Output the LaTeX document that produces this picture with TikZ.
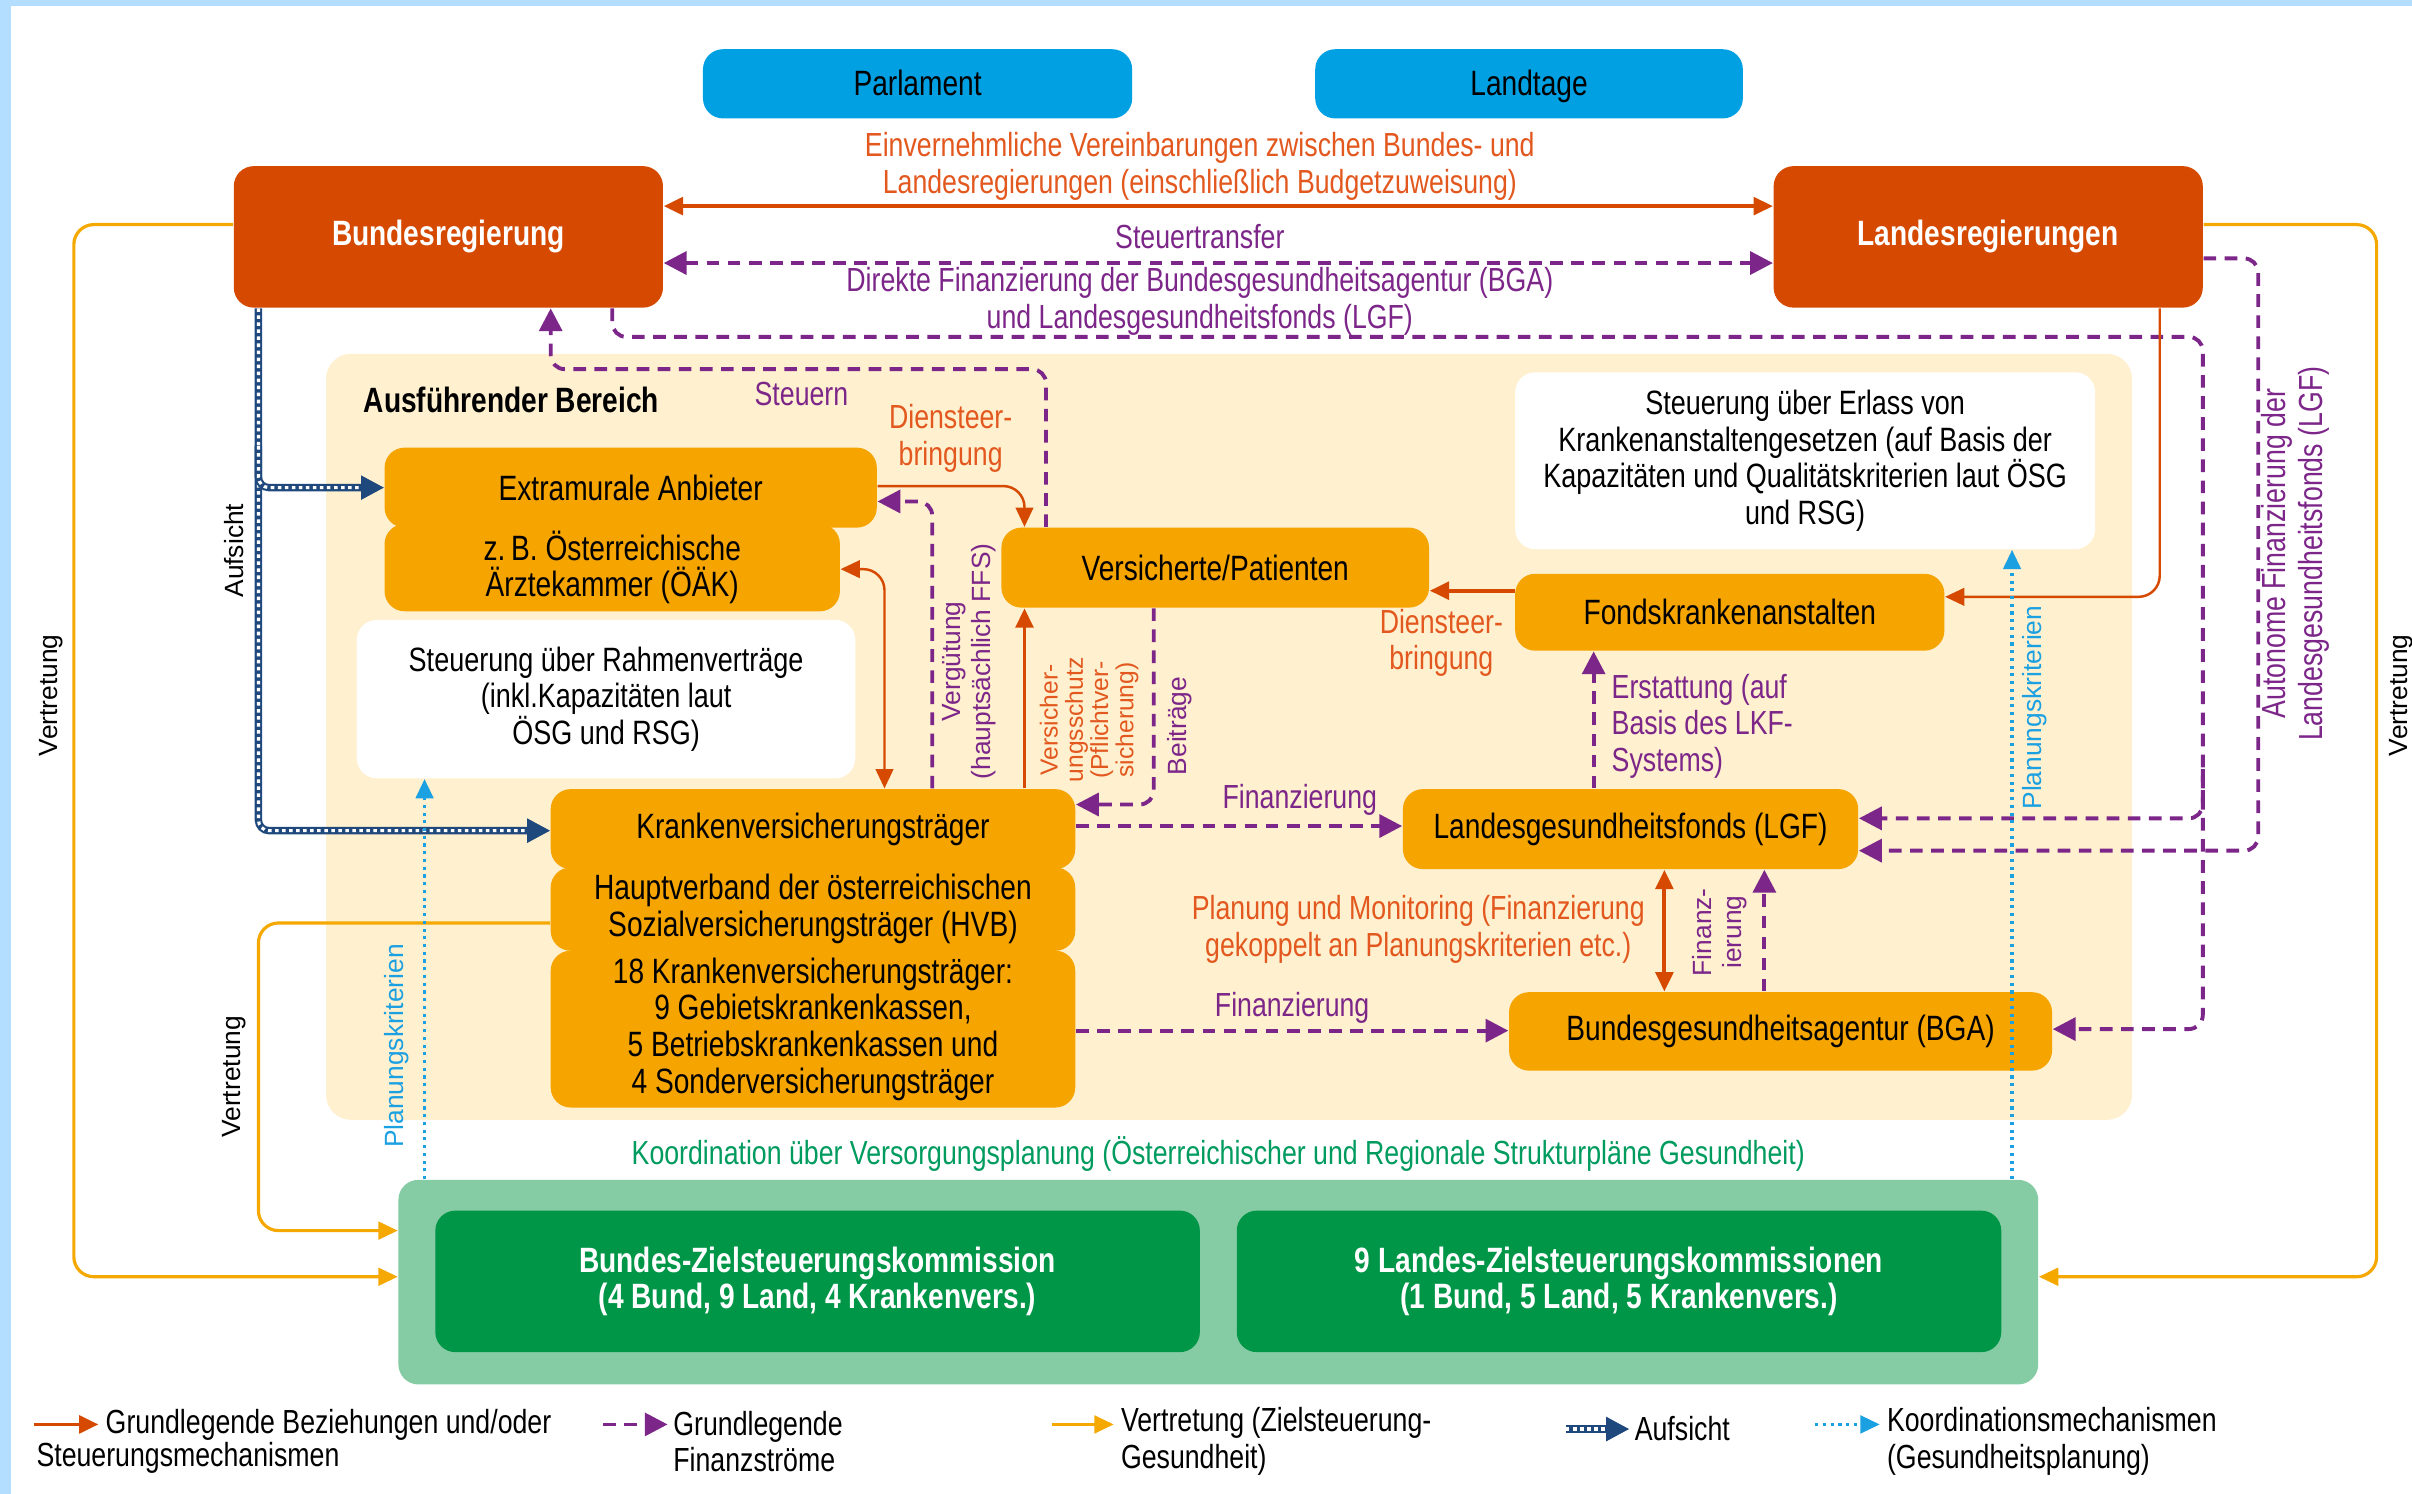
\documentclass[tikz,border=0pt]{standalone}
\usepackage{fontspec}
\setmainfont[FakeStretch=0.8]{Liberation Sans}
\newfontfamily\widefont{Liberation Sans}
\usetikzlibrary{arrows.meta,calc}

\definecolor{bgblue}{RGB}{179,222,255}
\definecolor{parlblue}{RGB}{0,160,227}
\definecolor{govred}{RGB}{213,74,0}
\definecolor{orgorange}{RGB}{245,164,0}
\definecolor{cream}{RGB}{255,240,207}
\definecolor{finpurple}{RGB}{125,38,137}
\definecolor{platgreen}{RGB}{133,204,164}
\definecolor{zielgreen}{RGB}{0,150,72}
\definecolor{koordgreen}{RGB}{0,155,95}
\definecolor{koordblue}{RGB}{27,160,226}
\definecolor{aufsichtblue}{RGB}{31,73,125}
\definecolor{lblorange}{RGB}{226,88,30}
\definecolor{vertyellow}{RGB}{245,168,0}

\newdimen\pxu \pxu=0.015383cm
\newcommand\boxfont{\fontsize{10}{10.4}\selectfont}
\newcommand\notefont{\fontsize{9.6}{10.4}\selectfont}
\newcommand\lblfont{\fontsize{9.5}{10.4}\selectfont}
\newcommand\rotfont{\widefont\fontsize{7.5}{8.4}\selectfont}
% box from corner (x1,y1) to corner (x2,y2)
\newcommand\bx[7]{\node[#6, minimum width={(#4-#2)*\pxu}, minimum height={(#5-#3)*\pxu}] (#1) at ({(#2+#4)/2},{(#3+#5)/2}) {#7};}

\tikzset{
  box/.style={rounded corners=0.2cm, inner sep=2pt, align=center, font=\boxfont},
  parlbox/.style={box, fill=parlblue, text=black, text height=1.6ex, text depth=0.35ex},
  govbox/.style={box, fill=govred, text=white, font=\boxfont\bfseries},
  orgbox/.style={box, fill=orgorange, text=black},
  notebox/.style={box, fill=white, text=black, font=\notefont},
  platbox/.style={box, fill=platgreen},
  zielbox/.style={box, fill=zielgreen, text=white, font=\boxfont\bfseries},
  area/.style={fill=cream, rounded corners=0.25cm},
  lbl/.style={font=\lblfont, align=center, inner sep=1pt},
  rotlbl/.style={font=\rotfont, align=center, inner sep=1pt, rotate=90},
  steuerung/.style={draw=govred, line width=1.1pt, rounded corners=4pt},
  steuerthin/.style={draw=govred, line width=0.7pt, rounded corners=6pt},
  finanz/.style={draw=finpurple, line width=1.1pt, dash pattern=on 3.6pt off 2.4pt, rounded corners=4pt,
    >={Triangle[length=6.5pt,width=6.5pt]}},
  vertretung/.style={draw=vertyellow, line width=0.9pt, rounded corners=0.2cm},
  koord/.style={draw=koordblue, line width=0.9pt, dash pattern=on 0.9pt off 1.3pt},
  aufsicht/.style={draw=white, line width=0.9pt, dash pattern=on 1pt off 1pt, rounded corners=3pt,
    preaction={draw=aufsichtblue, line width=2.1pt, solid},
    >={Triangle[length=6.5pt,width=6.5pt,color=aufsichtblue]}}
}

\begin{document}
\begin{tikzpicture}[x=0.015383cm, y=-0.015383cm, >={Triangle[length=5.5pt,width=5pt]}]
\useasboundingbox (0,0) rectangle (1568,971);
\fill[white] (0,0) rectangle (1568,971);
\fill[bgblue] (0,0) rectangle (1568,4);
\fill[bgblue] (0,0) rectangle (7,971);

% areas
\bx{bereich}{212}{230}{1386}{728}{area}{}
\node[font=\boxfont\bfseries, anchor=west, inner sep=0] (bereichlbl) at (236,260) {Ausführender Bereich};
\bx{plattform}{259}{767}{1325}{900}{platbox}{}

% boxes
\bx{parl}{457}{32}{736}{77}{parlbox}{Parlament}
\bx{landtage}{855}{32}{1133}{77}{parlbox}{Landtage}
\bx{bund}{152}{108}{431}{200}{govbox}{Bundesregierung}
\bx{land}{1153}{108}{1432}{200}{govbox}{Landesregierungen}
\bx{extra}{250}{291}{570}{343}{orgbox}{Extramurale Anbieter}
\bx{oeak}{250}{343}{546}{395}{orgbox}{z.\,B. Österreichische\\Ärztekammer (ÖÄK)}
\bx{rahmen}{232}{403}{556}{506}{notebox}{Steuerung über Rahmenverträge\\(inkl.Kapazitäten laut\\ÖSG und RSG)}
\bx{kvt}{358}{513}{699}{565}{orgbox}{Krankenversicherungsträger}
\bx{hvb}{358}{565}{699}{617}{orgbox}{Hauptverband der österreichischen\\Sozialversicherungsträger (HVB)}
\bx{kvtall}{358}{618}{699}{720}{orgbox}{18 Krankenversicherungsträger:\\9 Gebietskrankenkassen,\\5 Betriebskrankenkassen und\\4 Sonderversicherungsträger}
\bx{vers}{651}{343}{929}{395}{orgbox}{Versicherte/Patienten}
\bx{erlass}{985}{242}{1362}{357}{notebox}{Steuerung über Erlass von\\Krankenanstaltengesetzen (auf Basis der\\Kapazitäten und Qualitätskriterien laut ÖSG\\und RSG)}
\bx{fka}{985}{373}{1264}{423}{orgbox}{Fondskrankenanstalten}
\bx{lgf}{912}{513}{1208}{565}{orgbox}{Landesgesundheitsfonds (LGF)}
\bx{bga}{981}{645}{1334}{696}{orgbox}{Bundesgesundheitsagentur (BGA)}
\bx{bzk}{283}{787}{780}{879}{zielbox}{Bundes-Zielsteuerungskommission\\(4 Bund, 9 Land, 4 Krankenvers.)}
\bx{lzk}{804}{787}{1301}{879}{zielbox}{9 Landes-Zielsteuerungskommissionen\\(1 Bund, 5 Land, 5 Krankenvers.)}

% between the governments
\draw[steuerung,<->] (bund.east |- 0,134) -- (land.west |- 0,134);
\node[lbl, text=lblorange] (einvlbl) at (780,108) {Einvernehmliche Vereinbarungen zwischen Bundes- und\\Landesregierungen (einschließlich Budgetzuweisung)};
\draw[finanz,<->] (bund.east |- 0,171) -- (land.west |- 0,171);
\node[lbl, text=finpurple] (transferlbl) at (780,154) {Steuertransfer};
\node[lbl, text=finpurple] (direktlbl) at (780,196) {Direkte Finanzierung der Bundesgesundheitsagentur (BGA)\\und Landesgesundheitsfonds (LGF)};

% financing from the governments
\draw[finanz,->] (bund.south -| 398,0) -- (398,219) -- (1432,219) -- (1432,669) -- (bga.east |- 0,669);
\draw[finanz,->] (1432,500) -- (1432,532) -- (lgf.east |- 0,532);
\draw[finanz,->] (land.east |- 0,168) -- (1468,168) -- (1468,553) -- (lgf.east |- 0,553);
\node[rotlbl, font=\lblfont, text=finpurple] (autonomlbl) at (1492,360) {Autonome Finanzierung der\\Landesgesundheitsfonds (LGF)};
\draw[finanz,->] (vers.north -| 680,0) -- (680,240) -- (358,240) -- (bund.south -| 358,0);
\node[lbl, text=finpurple] (steuernlbl) at (521,256) {Steuern};
\draw[steuerthin,->] (land.south -| 1404,0) -- (1404,388) -- (fka.east |- 0,388);

% Vertretung
\draw[vertretung,->] (bund.west |- 0,146) -- (48,146) -- (48,830) -- (plattform.west |- 0,830);
\draw[vertretung,->] (hvb.west |- 0,600) -- (168,600) -- (168,800) -- (plattform.west |- 0,800);
\draw[vertretung,->] (land.east |- 0,146) -- (1545,146) -- (1545,830) -- (plattform.east |- 0,830);
\node[rotlbl] (vertlblA) at (33,452) {Vertretung};
\node[rotlbl] (vertlblB) at (152,700) {Vertretung};
\node[rotlbl] (vertlblC) at (1561,452) {Vertretung};

% Aufsicht
\draw[aufsicht,->] (bund.south -| 168,0) -- (168,540) -- (kvt.west |- 0,540);
\draw[aufsicht,->] (168,290) -- (168,317) -- (extra.west |- 0,317);
\node[rotlbl] (aufsichtlbl) at (152,358) {Aufsicht};

% Planungskriterien
\draw[koord,->] (plattform.north -| 276,0) -- (rahmen.south -| 276,0);
\draw[koord,->] (plattform.north -| 1308,0) -- (erlass.south -| 1308,0);
\node[rotlbl, text=koordblue] (planlblA) at (258,680) {Planungskriterien};
\node[rotlbl, text=koordblue] (planlblB) at (1323,460) {Planungskriterien};
\node[lbl, text=koordgreen] (koordlbl) at (792,750) {Koordination über Versorgungsplanung (Österreichischer und Regionale Strukturpläne Gesundheit)};

% relations in the executive area
\draw[steuerthin,->] (extra.east |- 0,316) -- (666,316) -- (vers.north -| 666,0);
\node[lbl, text=lblorange] (dienstlblA) at (618,285) {Diensteer-\\bringung};
\draw[steuerthin,<->] (oeak.east |- 0,370) -- (575,370) -- (kvt.north -| 575,0);
\draw[steuerung,->] (kvt.north -| 666,0) -- (vers.south -| 666,0);
\node[rotlbl, font=\widefont\fontsize{7}{7.2}\selectfont, text=lblorange] (schutzlbl) at (708,468) {Versicher-\\ungsschutz\\(Pflichtver-\\sicherung)};
\draw[steuerung,->] (fka.west |- 0,384) -- (vers.east |- 0,384);
\node[lbl, text=lblorange] (dienstlblB) at (937,418) {Diensteer-\\bringung};
\draw[steuerung,<->] (lgf.south -| 1082,0) -- (bga.north -| 1082,0);
\node[lbl, text=lblorange] (planmonlbl) at (922,604) {Planung und Monitoring (Finanzierung\\gekoppelt an Planungskriterien etc.)};

\draw[finanz,->] (kvt.north -| 606,0) -- (606,326) -- (extra.east |- 0,326);
\node[rotlbl, text=finpurple] (vergutlbl) at (630,430) {Vergütung\\(hauptsächlich FFS)};
\draw[finanz,->] (vers.south -| 750,0) -- (750,523) -- (kvt.east |- 0,523);
\node[rotlbl, text=finpurple] (beitraglbl) at (767,472) {Beiträge};
\draw[finanz,->] (kvt.east |- 0,537) -- (lgf.west |- 0,537);
\node[lbl, text=finpurple] (finlblA) at (845,520) {Finanzierung};
\draw[finanz,->] (kvtall.east |- 0,670) -- (bga.west |- 0,670);
\node[lbl, text=finpurple] (finlblB) at (840,655) {Finanzierung};
\draw[finanz,->] (lgf.north -| 1036,0) -- (fka.south -| 1036,0);
\node[lbl, text=finpurple, align=left, anchor=west] (erstattlbl) at (1045,472) {Erstattung (auf\\Basis des LKF-\\Systems)};
\draw[finanz,->] (bga.north -| 1147,0) -- (lgf.south -| 1147,0);
\node[rotlbl, text=finpurple] (finlblC) at (1118,606) {Finanz-\\ierung};

% legend
\coordinate (lgA1) at (22,926);   \coordinate (lgA2) at (64,926);
\coordinate (lgB1) at (392,926);  \coordinate (lgB2) at (434,926);
\coordinate (lgC1) at (684,926);  \coordinate (lgC2) at (724,926);
\coordinate (lgD1) at (1018,929); \coordinate (lgD2) at (1059,929);
\coordinate (lgE1) at (1180,926); \coordinate (lgE2) at (1222,926);
\draw[steuerung,->] (lgA1) -- (lgA2);
\draw[finanz,->] (lgB1) -- (lgB2);
\draw[vertretung,->] (lgC1) -- (lgC2);
\draw[aufsicht,->] (lgD1) -- (lgD2);
\draw[koord,->] (lgE1) -- (lgE2);
\node[lbl, anchor=west] (lgAtxt) at (66,926) {Grundlegende Beziehungen und/oder};
\node[lbl, anchor=west] (lgAtxt2) at (21,948) {Steuerungsmechanismen};
\node[lbl, anchor=west, align=left] (lgBtxt) at (435,937) {Grundlegende\\Finanzströme};
\node[lbl, anchor=west, align=left] (lgCtxt) at (726,937) {Vertretung (Zielsteuerung-\\Gesundheit)};
\node[lbl, anchor=west] (lgDtxt) at (1060,929) {Aufsicht};
\node[lbl, anchor=west, align=left] (lgEtxt) at (1224,937) {Koordinationsmechanismen\\(Gesundheitsplanung)};
\end{tikzpicture}
\end{document}
